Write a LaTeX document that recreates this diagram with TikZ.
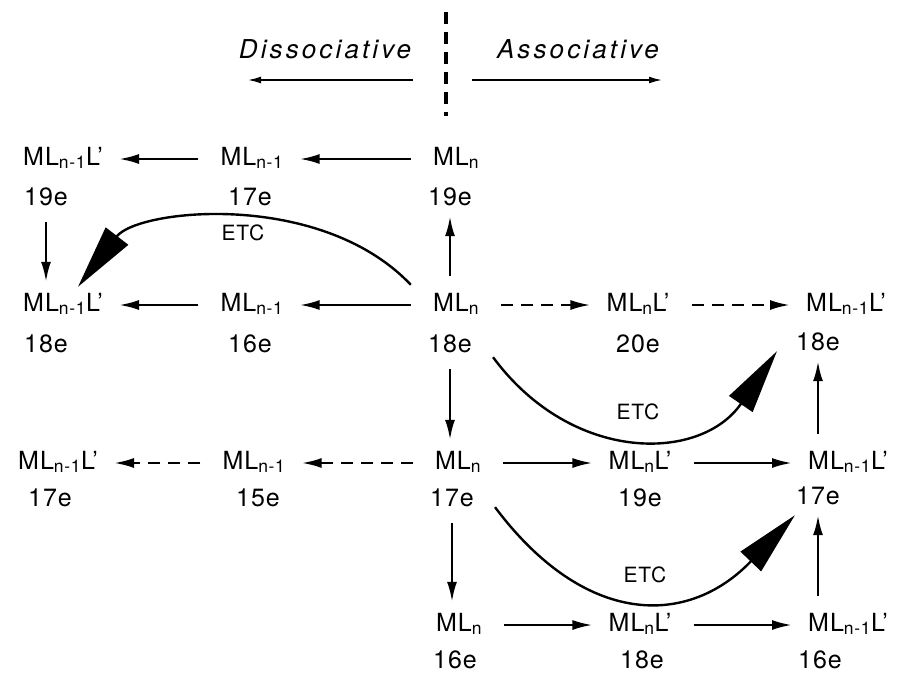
\documentclass[tikz,border=0pt]{standalone}
\usepackage{fontspec}
\setmainfont{TeX Gyre Heros}[LetterSpace=4]
\newfontfamily\headfont{TeX Gyre Heros}[LetterSpace=12]
\usetikzlibrary{arrows.meta}

\tikzset{
    chem/.style={anchor=base, font=\fontsize{25}{28}\selectfont,
        text height=18pt, text depth=6pt, inner xsep=8pt, inner ysep=3pt},
    ecount/.style={anchor=base, font=\fontsize{25}{28}\selectfont,
        text height=18pt, text depth=0pt, inner sep=3pt},
    heading/.style={anchor=base, font=\headfont\itshape\fontsize{26}{28}\selectfont},
    etclbl/.style={font=\fontsize{21}{24}\selectfont},
    rx/.style={-{Latex[length=20pt,width=10pt]}, line width=2.4pt,
        shorten <=14pt, shorten >=8pt},
    rxd/.style={rx, dash pattern=on 12pt off 8pt},
    hd/.style={-{Latex[length=13pt,width=7pt]}, line width=1.6pt},
    divider/.style={line width=4.5pt, dash pattern=on 12pt off 8pt},
    etcarc/.style={-{Triangle[length=64pt,width=28pt]}, line width=2.4pt},
}

\begin{document}
\begin{tikzpicture}[x=1pt,y=-1pt]
    \useasboundingbox (0,0) rectangle (903,673);
    % headings
    \node[heading] (dis) at (325,58) {Dissociative};
    \node[heading] (ass) at (578,58) {Associative};
    \coordinate (disL) at (248,80);
    \coordinate (disR) at (413,80);
    \coordinate (assL) at (472,80);
    \coordinate (assR) at (662,80);
    \coordinate (divT) at (446,12);
    \coordinate (divB) at (446,116);
    \draw[divider] (divT) -- (divB);
    \draw[hd] (disR) -- (disL);
    \draw[hd] (assL) -- (assR);
    % row 1
    \node[chem] (A1) at (456,165) {ML\textsubscript{n}};
    \node[ecount] (A1e) at (450,205) {19e};
    \node[chem] (B1) at (252,165) {ML\textsubscript{n-1}};
    \node[ecount] (B1e) at (250,205) {17e};
    \node[chem] (C1) at (63,165) {ML\textsubscript{n-1}L'};
    \node[ecount] (C1e) at (46,205) {19e};
    % row 2
    \node[chem] (A2) at (456,311) {ML\textsubscript{n}};
    \node[ecount] (A2e) at (450,352) {18e};
    \node[chem] (B2) at (252,311) {ML\textsubscript{n-1}};
    \node[ecount] (B2e) at (250,352) {16e};
    \node[chem] (C2) at (63,311) {ML\textsubscript{n-1}L'};
    \node[ecount] (C2e) at (46,352) {18e};
    \node[chem] (D2) at (638,311) {ML\textsubscript{n}L'};
    \node[ecount] (D2e) at (638,352) {20e};
    \node[chem] (F2) at (846,311) {ML\textsubscript{n-1}L'};
    \node[ecount] (F2e) at (818,350) {18e};
    % row 3
    \node[chem] (A3) at (458,469) {ML\textsubscript{n}};
    \node[ecount] (A3e) at (452,506) {17e};
    \node[chem] (B3) at (254,469) {ML\textsubscript{n-1}};
    \node[ecount] (B3e) at (258,506) {15e};
    \node[chem] (C3) at (58,469) {ML\textsubscript{n-1}L'};
    \node[ecount] (C3e) at (50,506) {17e};
    \node[chem] (D3) at (640,469) {ML\textsubscript{n}L'};
    \node[ecount] (D3e) at (640,506) {19e};
    \node[chem] (F3) at (848,469) {ML\textsubscript{n-1}L'};
    \node[ecount] (F3e) at (818,504) {17e};
    % row 4
    \node[chem] (A4) at (459,631) {ML\textsubscript{n}};
    \node[ecount] (A4e) at (455,668) {16e};
    \node[chem] (D4) at (640,631) {ML\textsubscript{n}L'};
    \node[ecount] (D4e) at (642,668) {18e};
    \node[chem] (F4) at (848,631) {ML\textsubscript{n-1}L'};
    \node[ecount] (F4e) at (820,668) {16e};
    % horizontal steps
    \draw[rx] (A1) -- (B1);
    \draw[rx] (B1) -- (C1);
    \draw[rx] (A2) -- (B2);
    \draw[rx] (B2) -- (C2);
    \draw[rxd] (A2) -- (D2);
    \draw[rxd] (D2) -- (F2);
    \draw[rxd] (A3) -- (B3);
    \draw[rxd] (B3) -- (C3);
    \draw[rx] (A3) -- (D3);
    \draw[rx] (D3) -- (F3);
    \draw[rx] (A4) -- (D4);
    \draw[rx] (D4) -- (F4);
    % vertical steps
    \draw[rx] (C1e) -- (C1e |- C2.north);
    \draw[rx] (A2.north -| A1e) -- (A1e);
    \draw[rx] (A2e) -- (A2e |- A3.north);
    \draw[rx] (A3e) -- (A3e |- A4.north);
    \draw[rx] (F3.north -| F2e) -- (F2e);
    \draw[rx] (F4.north -| F3e) -- (F3e);
    % electron transfer chains
    \draw[etcarc] ([xshift=-14pt,yshift=5pt]A2.north west)
        .. controls +(-90,-95) and +(60,-78) .. ([xshift=15pt,yshift=3pt]C2.north);
    \node[etclbl] (etc1) at (243,233) {ETC};
    \draw[etcarc] ([xshift=18pt,yshift=-2pt]A2e.south east)
        .. controls +(79,107) and +(-76,111) .. ([xshift=-16pt,yshift=2pt]F2e.south west);
    \node[etclbl] (etc2) at (638,412) {ETC};
    \draw[etcarc] ([xshift=18pt,yshift=2pt]A3e.south east)
        .. controls +(90,120) and +(-107,112) .. ([xshift=2pt,yshift=-8pt]F3e.south west);
    \node[etclbl] (etc3) at (645,575) {ETC};
\end{tikzpicture}
\end{document}
